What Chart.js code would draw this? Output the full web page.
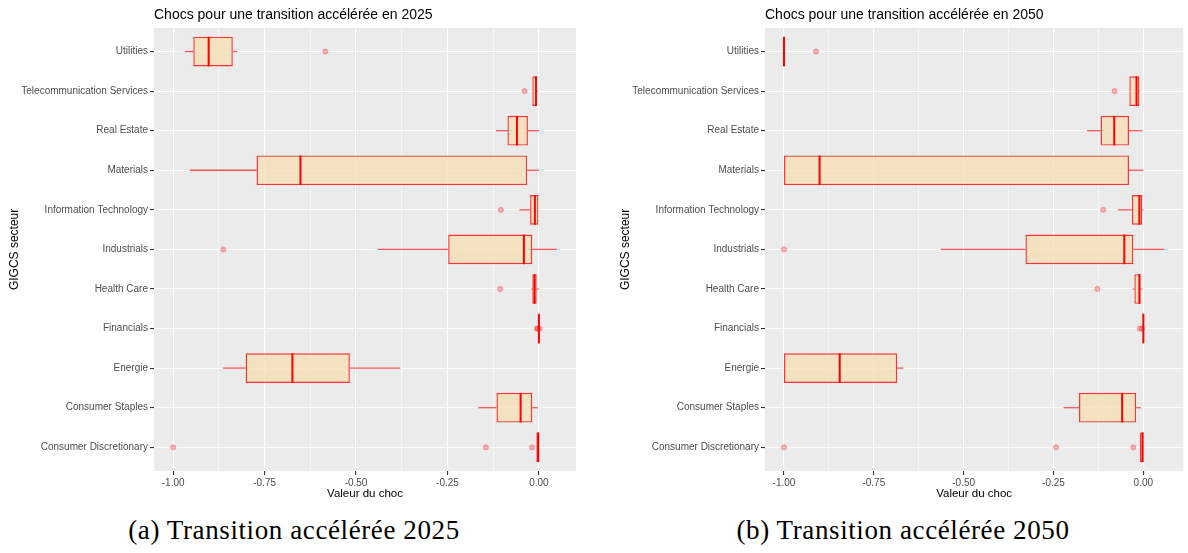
<!DOCTYPE html>
<html lang="fr">
<head>
<meta charset="utf-8">
<title>Chocs pour une transition accélérée</title>
<script src="https://cdn.jsdelivr.net/npm/chart.js@4.4.1/dist/chart.umd.min.js"></script>
<style>
  html, body { margin: 0; padding: 0; background: #fff; }
  body { width: 1188px; height: 553px; position: relative; overflow: hidden;
         font-family: "Liberation Sans", Arial, sans-serif; }
  .panel { position: absolute; top: 0; height: 507px; }
  #panel2025 { left: 0; width: 594px; }
  #panel2050 { left: 611px; width: 577px; }
  .caption { position: absolute; top: 515px; transform: translateX(-50%);
             font-family: "Liberation Serif", "DejaVu Serif", serif; font-size: 27px;
             letter-spacing: 0.6px; color: #000; white-space: nowrap; }
</style>
</head>
<body>
<div class="panel" id="panel2025"><canvas id="chart2025"></canvas></div>
<div class="panel" id="panel2050"><canvas id="chart2050"></canvas></div>
<div class="caption" style="left:294px">(a) Transition accélérée 2025</div>
<div class="caption" style="left:903px">(b) Transition accélérée 2050</div>

<script>
// GICS sectors, bottom to top
const categories = [
  "Consumer Discretionary", "Consumer Staples", "Energie", "Financials",
  "Health Care", "Industrials", "Information Technology", "Materials",
  "Real Estate", "Telecommunication Services", "Utilities"
];
const xMajorTicks = [-1.00, -0.75, -0.50, -0.25, 0.00];

// Shock distribution per sector, accelerated transition 2025
const low2025  = [-0.007, -0.166, -0.864, 0.000, -0.021, -0.441, -0.053, -0.955, -0.117, -0.018, -0.968];
const q1_2025  = [-0.007, -0.116, -0.802, 0.000, -0.018, -0.248, -0.024, -0.772, -0.086, -0.018, -0.945];
const med2025  = [-0.002, -0.050, -0.674, 0.000, -0.012, -0.041, -0.011, -0.652, -0.060, -0.008, -0.903];
const q3_2025  = [ 0.001, -0.018, -0.517, 0.000, -0.006, -0.018, -0.001, -0.032, -0.030, -0.006, -0.837];
const high2025 = [ 0.001, -0.003, -0.379, 0.000,  0.000,  0.049, -0.001,  0.000,  0.000, -0.003, -0.825];
const outlierSector2025 = [0, 0, 0, 3, 3, 3, 4, 5, 6, 9, 10];
const outlierValue2025  = [-1.000, -0.145, -0.019, -0.006, -0.003, 0.002, -0.106, -0.863, -0.104, -0.039, -0.584];

// Shock distribution per sector, accelerated transition 2050
const low2050  = [-0.010, -0.222, -1.000, 0.000, -0.030, -0.564, -0.071, -1.000, -0.157, -0.039, -1.000];
const q1_2050  = [-0.010, -0.179, -1.000, 0.000, -0.025, -0.328, -0.032, -1.000, -0.119, -0.039, -1.000];
const med2050  = [-0.002, -0.059, -0.845, 0.000, -0.011, -0.053, -0.011, -0.901, -0.081, -0.019, -1.000];
const q3_2050  = [-0.001, -0.020, -0.685, 0.000, -0.008, -0.028, -0.003, -0.040, -0.040, -0.011, -1.000];
const high2050 = [-0.001, -0.007, -0.668, 0.000, -0.003,  0.058,  0.000,  0.000, -0.003, -0.009, -1.000];
const outlierSector2050 = [0, 0, 0, 3, 3, 4, 5, 6, 9, 10];
const outlierValue2050  = [-1.000, -0.243, -0.028, -0.010, -0.004, -0.128, -1.000, -0.112, -0.080, -0.911];

// Drawing styles
const BOX_WIDTH = 0.75;
const PANEL_BG = '#EBEBEB';
const BOX_FILL = 'rgba(245, 222, 179, 0.78)';
const BOX_LINE = 'rgba(255, 0, 0, 0.78)';
const WHISKER = 'rgba(255, 0, 0, 0.65)';
const MEDIAN = '#FF0000';
const TICK_TEXT = '#4D4D4D';

// Panel background, whiskers and median lines of the boxplots
const boxParts = {
  id: 'boxParts',
  beforeDraw(chart) {
    const { ctx, chartArea: a } = chart;
    ctx.save();
    ctx.fillStyle = PANEL_BG;
    ctx.fillRect(a.left, a.top, a.right - a.left, a.bottom - a.top);
    ctx.restore();
  },
  afterDatasetDraw(chart, args, opts) {
    if (args.index !== 0 || !opts.med) return;
    const { ctx } = chart;
    const xs = chart.scales.x, ys = chart.scales.y;
    ctx.save();
    ctx.lineCap = 'butt';
    ctx.strokeStyle = WHISKER;
    ctx.lineWidth = 1.3;
    opts.med.forEach((m, i) => {
      const y = ys.getPixelForValue(i);
      if (opts.low[i] < opts.q1[i]) {
        ctx.beginPath();
        ctx.moveTo(xs.getPixelForValue(opts.low[i]), y);
        ctx.lineTo(xs.getPixelForValue(opts.q1[i]), y);
        ctx.stroke();
      }
      if (opts.high[i] > opts.q3[i]) {
        ctx.beginPath();
        ctx.moveTo(xs.getPixelForValue(opts.q3[i]), y);
        ctx.lineTo(xs.getPixelForValue(opts.high[i]), y);
        ctx.stroke();
      }
    });
    ctx.strokeStyle = MEDIAN;
    ctx.lineWidth = 2;
    opts.med.forEach((m, i) => {
      const x = xs.getPixelForValue(m);
      ctx.beginPath();
      ctx.moveTo(x, ys.getPixelForValue(i - BOX_WIDTH / 2));
      ctx.lineTo(x, ys.getPixelForValue(i + BOX_WIDTH / 2));
      ctx.stroke();
    });
    ctx.restore();
  }
};

function makeChart(canvasId, titleText, low, q1, med, q3, high, outSector, outValue, yAxisWidth, padRight) {
  // x range: data extent expanded by 5% on each side
  const all = low.concat(high, outValue);
  const lo = Math.min(...all), hi = Math.max(...all);
  const pad = (hi - lo) * 0.05;
  const majorSet = new Set(xMajorTicks.map(v => v.toFixed(3)));
  const xTickValues = [];
  xMajorTicks.forEach((v, k) => {
    xTickValues.push(v);
    if (k < xMajorTicks.length - 1) xTickValues.push((v + xMajorTicks[k + 1]) / 2);
  });
  const isMajor = v => majorSet.has(Number(v).toFixed(3));

  return new Chart(document.getElementById(canvasId), {
    type: 'bar',
    data: {
      datasets: [
        {
          type: 'bar',
          indexAxis: 'y',
          data: categories.map((c, i) => ({ y: i, x: [q1[i], q3[i]] })),
          backgroundColor: BOX_FILL,
          borderColor: BOX_LINE,
          borderWidth: 1.4,
          borderSkipped: false,
          categoryPercentage: 1,
          barPercentage: BOX_WIDTH,
          order: 2
        },
        {
          type: 'scatter',
          data: outValue.map((v, k) => ({ x: v, y: outSector[k] })),
          pointRadius: 2.6,
          pointBackgroundColor: 'rgba(255, 0, 0, 0.28)',
          pointBorderColor: 'rgba(255, 0, 0, 0.3)',
          pointBorderWidth: 0.8,
          order: 1
        }
      ]
    },
    options: {
      responsive: true,
      maintainAspectRatio: false,
      animation: false,
      events: [],
      layout: { padding: { left: 0, right: padRight, top: 0, bottom: 0 } },
      plugins: {
        legend: { display: false },
        tooltip: { enabled: false },
        title: {
          display: true,
          text: titleText,
          align: 'start',
          fullSize: false,
          color: '#000',
          font: { family: '"Liberation Sans", Arial, sans-serif', size: 14, weight: 'normal' },
          padding: { top: 7, bottom: 4 }
        },
        boxParts: { low, q1, med, q3, high }
      },
      scales: {
        x: {
          type: 'linear',
          position: 'bottom',
          offset: false,
          min: lo - pad,
          max: hi + pad,
          afterBuildTicks: s => { s.ticks = xTickValues.map(v => ({ value: v })); },
          afterFit: s => { s.height = 36; },
          border: { display: false },
          grid: {
            offset: false,
            color: '#FFFFFF',
            lineWidth: c => (c.tick && isMajor(c.tick.value)) ? 1.1 : 0.55,
            tickColor: c => (c.tick && isMajor(c.tick.value)) ? '#333333' : 'rgba(0,0,0,0)',
            tickLength: 4
          },
          ticks: {
            autoSkip: false,
            maxRotation: 0,
            padding: 2,
            color: TICK_TEXT,
            font: { family: '"Liberation Sans", Arial, sans-serif', size: 10 },
            callback: v => isMajor(v) ? Number(v).toFixed(2) : ''
          },
          title: {
            display: true,
            text: 'Valeur du choc',
            color: '#000',
            font: { family: '"Liberation Sans", Arial, sans-serif', size: 11.5 },
            padding: { top: 0, bottom: 6 }
          }
        },
        y: {
          type: 'linear',
          position: 'left',
          offset: false,
          min: -0.6,
          max: categories.length - 1 + 0.6,
          afterBuildTicks: s => { s.ticks = categories.map((c, i) => ({ value: i })); },
          afterFit: s => { s.width = yAxisWidth; },
          border: { display: false },
          grid: { offset: false, color: '#FFFFFF', lineWidth: 1.1, tickColor: '#333333', tickLength: 4 },
          ticks: {
            autoSkip: false,
            padding: 2,
            color: TICK_TEXT,
            font: { family: '"Liberation Sans", Arial, sans-serif', size: 10 },
            callback: v => categories[v] ?? ''
          },
          title: {
            display: true,
            text: 'GIGCS secteur',
            color: '#000',
            font: { family: '"Liberation Sans", Arial, sans-serif', size: 12 },
            padding: { top: 7, bottom: 0 }
          }
        }
      }
    },
    plugins: [boxParts]
  });
}

makeChart('chart2025', 'Chocs pour une transition accélérée en 2025',
  low2025, q1_2025, med2025, q3_2025, high2025, outlierSector2025, outlierValue2025, 154, 18);
makeChart('chart2050', 'Chocs pour une transition accélérée en 2050',
  low2050, q1_2050, med2050, q3_2050, high2050, outlierSector2050, outlierValue2050, 154, 2);
</script>
</body>
</html>
